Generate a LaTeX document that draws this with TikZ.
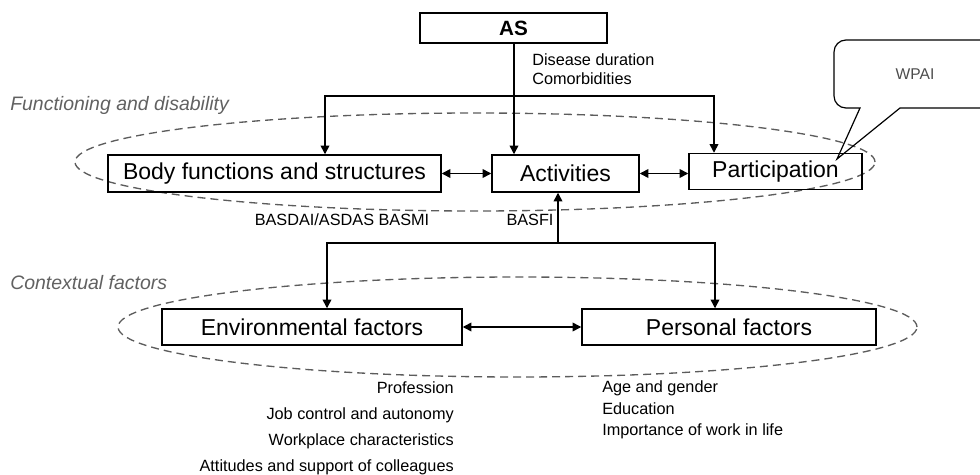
\documentclass[tikz,border=0pt]{standalone}
\usepackage{fontspec}
\setmainfont{Liberation Sans}
\usetikzlibrary{arrows.meta}
\definecolor{dashgray}{gray}{0.36}
\definecolor{labgray}{gray}{0.38}
\definecolor{wpaigray}{gray}{0.3}
\tikzset{
 box/.style={draw, line width=1.1pt, inner sep=0pt, font=\fontsize{17.25}{20}\selectfont},
 arr/.style={line width=1.1pt, -{Triangle[length=6.5pt,width=6.5pt]}},
 arrb/.style={line width=1.1pt, {Triangle[length=6.5pt,width=6.5pt]}-{Triangle[length=6.5pt,width=6.5pt]}},
 small/.style={inner sep=0pt, font=\fontsize{12.2}{14}\selectfont},
 group/.style={inner sep=0pt, font=\fontsize{14.6}{17}\selectfont\itshape, text=labgray},
 dashell/.style={draw=dashgray, dash pattern=on 6pt off 3.75pt, line width=1pt},
}
\begin{document}
\begin{tikzpicture}[x=0.75pt,y=-0.75pt]
\useasboundingbox (0,0) rectangle (980,474);

% dashed groups
\draw[dashell] (475,162) ellipse [x radius=300pt, y radius=36.75pt];
\draw[dashell] (517.5,327) ellipse [x radius=299.6pt, y radius=37.5pt];

% group labels
\node[group, anchor=west] (fd) at (10,105) {Functioning and disability};
\node[group, anchor=west] (cf) at (10,283) {Contextual factors};

% boxes
\node[box, minimum width=140.25pt, minimum height=22.5pt, font=\fontsize{15.5}{18}\selectfont\bfseries] (as) at (513.5,28) {AS};
\node[box, minimum width=249.75pt, minimum height=27.75pt] (body) at (274.5,173.5) {Body functions and structures};
\node[box, minimum width=110.25pt, minimum height=27.75pt] (act) at (565.5,173.5) {Activities};
\node[box, minimum width=129.75pt, minimum height=27pt] (part) at (775.5,171.5) {Participation};
\node[box, minimum width=225pt, minimum height=27pt] (env) at (312,327) {Environmental factors};
\node[box, minimum width=220.5pt, minimum height=27pt] (pers) at (729,327) {Personal factors};

% top connectors
\coordinate (jt) at (514,96);
\coordinate (bl) at (325,96);
\coordinate (pr) at (714,96);
\draw[arr] (as.south -| jt) -- (jt |- act.north);
\draw[arr] (jt) -- (bl) -- (bl |- body.north);
\draw[arr] (jt) -- (pr) -- (pr |- part.north);

% lateral double arrows
\draw[arrb] (body.east) -- (act.west);
\draw[arrb] (act.east) -- (act.east -| part.west);
\draw[arrb] (env.east) -- (pers.west);

% bottom connectors
\coordinate (jb) at (558,243);
\coordinate (el) at (327,243);
\coordinate (pl) at (715,243);
\draw[arr] (jb) -- (jb |- act.south);
\draw[arr] (jb) -- (el) -- (el |- env.north);
\draw[arr] (jb) -- (pl) -- (pl |- pers.north);

% small labels
\node[small, anchor=west] (dd) at (532,60) {Disease duration};
\node[small, anchor=west] (cm) at (532,79) {Comorbidities};
\node[small] (basdai) at (342,220) {BASDAI/ASDAS BASMI};
\node[small] (basfi) at (530,220) {BASFI};

\node[small, anchor=east] (e1) at (454,388) {Profession};
\node[small, anchor=east] (e2) at (454,415) {Job control and autonomy};
\node[small, anchor=east] (e3) at (454,441) {Workplace characteristics};
\node[small, anchor=east] (e4) at (454,467) {Attitudes and support of colleagues};

\node[small, anchor=west] (p1) at (602,388) {Age and gender};
\node[small, anchor=west] (p2) at (602,409) {Education};
\node[small, anchor=west] (p3) at (602,431) {Importance of work in life};

% WPAI callout
\draw[line width=0.9pt] (860,108) [rounded corners=9pt] -- (834,108) -- (834,40) -- (1000,40) -- (1000,108) [sharp corners] -- (900,108) -- (837,159) -- cycle;
\node[inner sep=0pt, font=\fontsize{11.7}{14}\selectfont, text=wpaigray] (wpai) at (915,74) {WPAI};
\end{tikzpicture}
\end{document}
